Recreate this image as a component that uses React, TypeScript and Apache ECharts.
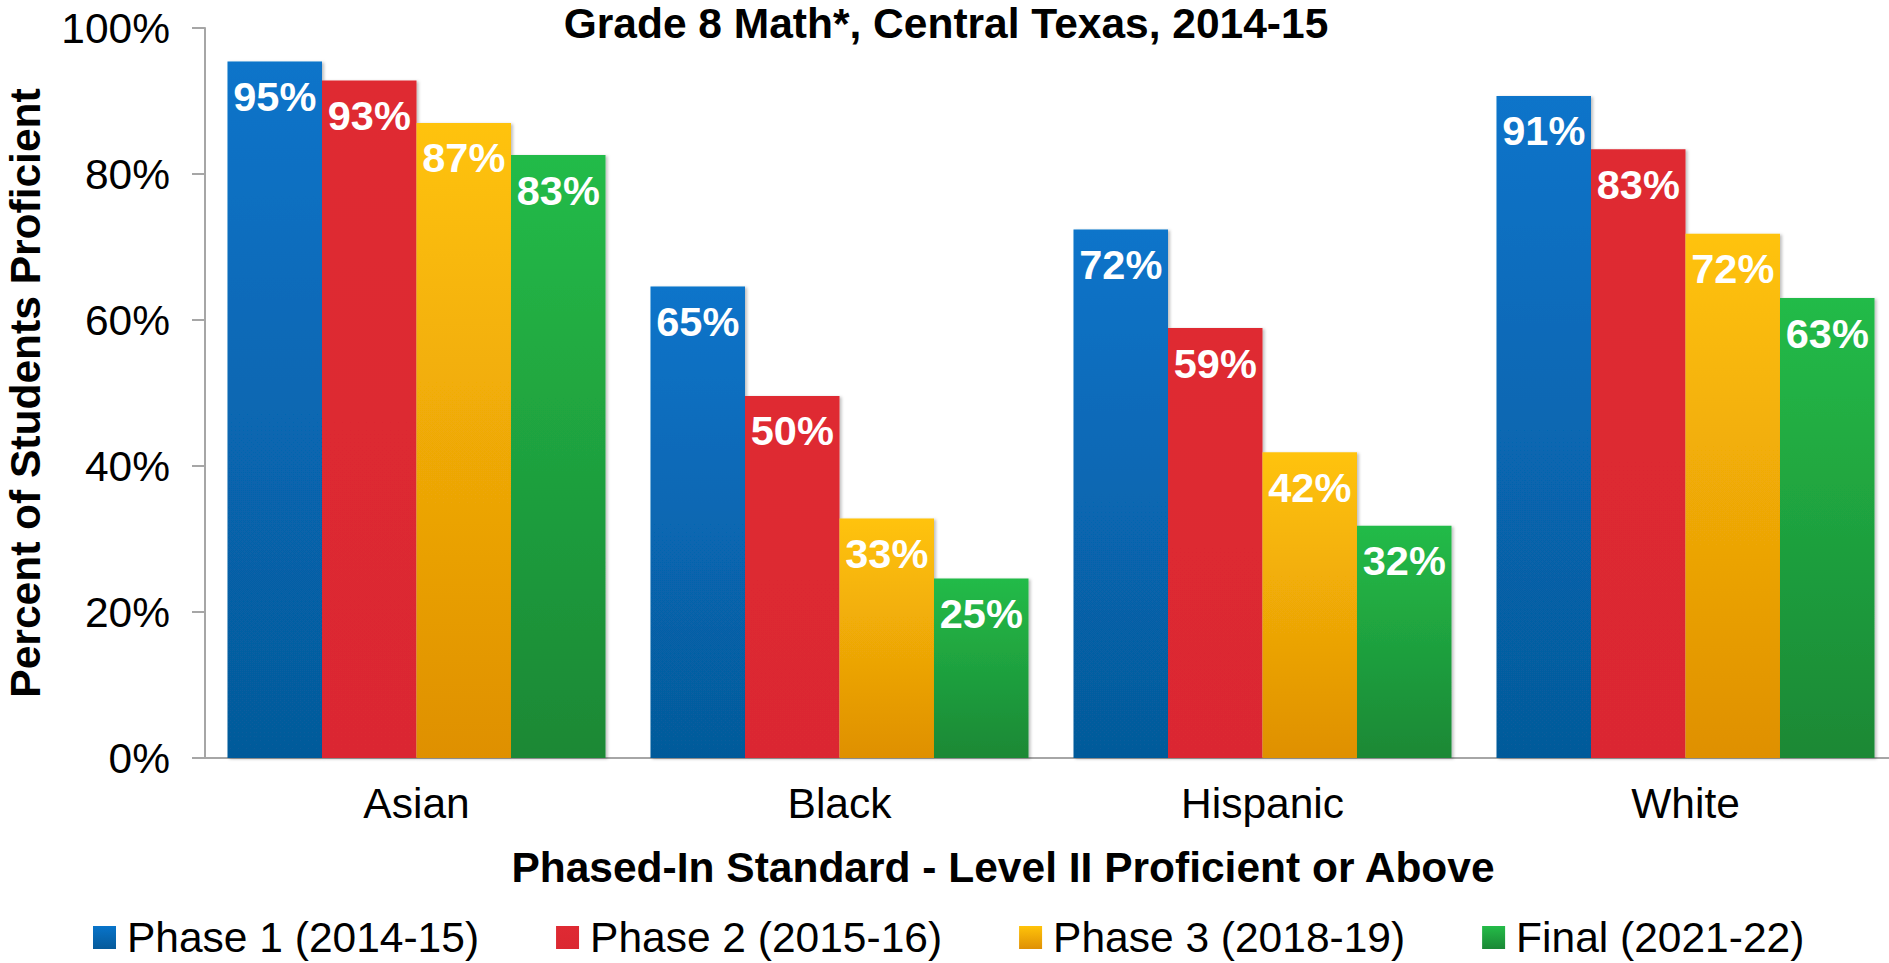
import React, { useEffect, useRef } from "react";
import * as echarts from "echarts";

const categories = ["Asian", "Black", "Hispanic", "White"];
const seriesNames = ["Phase 1 (2014-15)", "Phase 2 (2015-16)", "Phase 3 (2018-19)", "Final (2021-22)"];
const phase1 = [95.4, 64.6, 72.4, 90.7];
const phase2 = [92.8, 49.6, 58.9, 83.4];
const phase3 = [87.0, 32.8, 41.9, 71.8];
const finalPhase = [82.6, 24.6, 31.8, 63.0];
const yMin = 0;
const yMax = 100;
const yInterval = 20;
const chartTitle = "Grade 8 Math*, Central Texas, 2014-15";
const xTitle = "Phased-In Standard - Level II Proficient or Above";
const yTitle = "Percent of Students Proficient";

const gradients: [string, string][] = [
  ["#0874ca", "#065a9a"],
  ["#df2a33", "#db2831"],
  ["#ffc309", "#df9004"],
  ["#24bb48", "#1a8835"],
];

const FONT = "'Liberation Sans', Arial, sans-serif";
const FS = 42.5;

export default function App() {
  const ref = useRef<HTMLDivElement>(null);
  useEffect(() => {
    if (!ref.current) return;
    const chart = echarts.init(ref.current, undefined, { renderer: "svg" });
    const datasets = [phase1, phase2, phase3, finalPhase];
    const series = datasets.map((d, i) => ({
      name: seriesNames[i],
      type: "bar",
      data: d,
      barWidth: 94.5,
      barGap: "0%",
      itemStyle: {
        color: new echarts.graphic.LinearGradient(0, 0, 0, 1, [
          { offset: 0, color: gradients[i][0] },
          { offset: 1, color: gradients[i][1] },
        ]),
        shadowColor: "rgba(0,0,0,0.25)",
        shadowBlur: 3,
        shadowOffsetX: 2,
        shadowOffsetY: 1,
      },
      label: {
        show: true,
        position: "insideTop",
        distance: 14,
        color: "#ffffff",
        fontSize: 41.5,
        fontWeight: "bold",
        fontFamily: FONT,
        formatter: (p: any) => Math.round(p.value) + "%",
      },
    }));
    chart.setOption({
      animation: false,
      backgroundColor: "#ffffff",
      textStyle: { fontFamily: FONT },
      grid: { left: 205, right: 0, top: 28, bottom: 205, containLabel: false },
      legend: {
        data: seriesNames,
        left: 93,
        top: 916,
        padding: 0,
        icon: "rect",
        itemWidth: 23,
        itemHeight: 23,
        itemGap: 77,
        textStyle: { fontSize: FS, color: "#000000", fontFamily: FONT, padding: [0, 0, 0, 6] },
      },
      xAxis: {
        type: "category",
        data: categories,
        axisLine: { show: true, lineStyle: { color: "#a6a6a6", width: 2 } },
        axisTick: { show: false },
        axisLabel: { fontSize: FS, color: "#000000", margin: 24, fontFamily: FONT },
        splitLine: { show: false },
      },
      yAxis: {
        type: "value",
        min: yMin,
        max: yMax,
        interval: yInterval,
        axisLine: { show: true, lineStyle: { color: "#a6a6a6", width: 2 } },
        axisTick: { show: true, length: 13, lineStyle: { color: "#a6a6a6", width: 2 } },
        axisLabel: { fontSize: FS, color: "#000000", margin: 35, formatter: "{value}%", fontFamily: FONT },
        splitLine: { show: false },
      },
      graphic: [
        {
          type: "text",
          x: 946,
          y: 23,
          style: {
            text: chartTitle,
            fontSize: FS,
            fontWeight: "bold",
            fontFamily: FONT,
            fill: "#000000",
            textAlign: "center",
            textVerticalAlign: "middle",
          },
        },
        {
          type: "text",
          x: 1003,
          y: 867,
          style: {
            text: xTitle,
            fontSize: FS,
            fontWeight: "bold",
            fontFamily: FONT,
            fill: "#000000",
            textAlign: "center",
            textVerticalAlign: "middle",
          },
        },
        {
          type: "text",
          x: 25,
          y: 393,
          rotation: Math.PI / 2,
          style: {
            text: yTitle,
            fontSize: FS,
            fontWeight: "bold",
            fontFamily: FONT,
            fill: "#000000",
            textAlign: "center",
            textVerticalAlign: "middle",
          },
        },
      ],
      series,
    });
    return () => chart.dispose();
  }, []);
  return (
    <div style={{ position: "fixed", left: 0, top: 0, width: 1889, height: 963, overflow: "hidden" }}>
      <div ref={ref} style={{ position: "absolute", left: 0, top: 0, width: 1897, height: 963 }} />
    </div>
  );
}
